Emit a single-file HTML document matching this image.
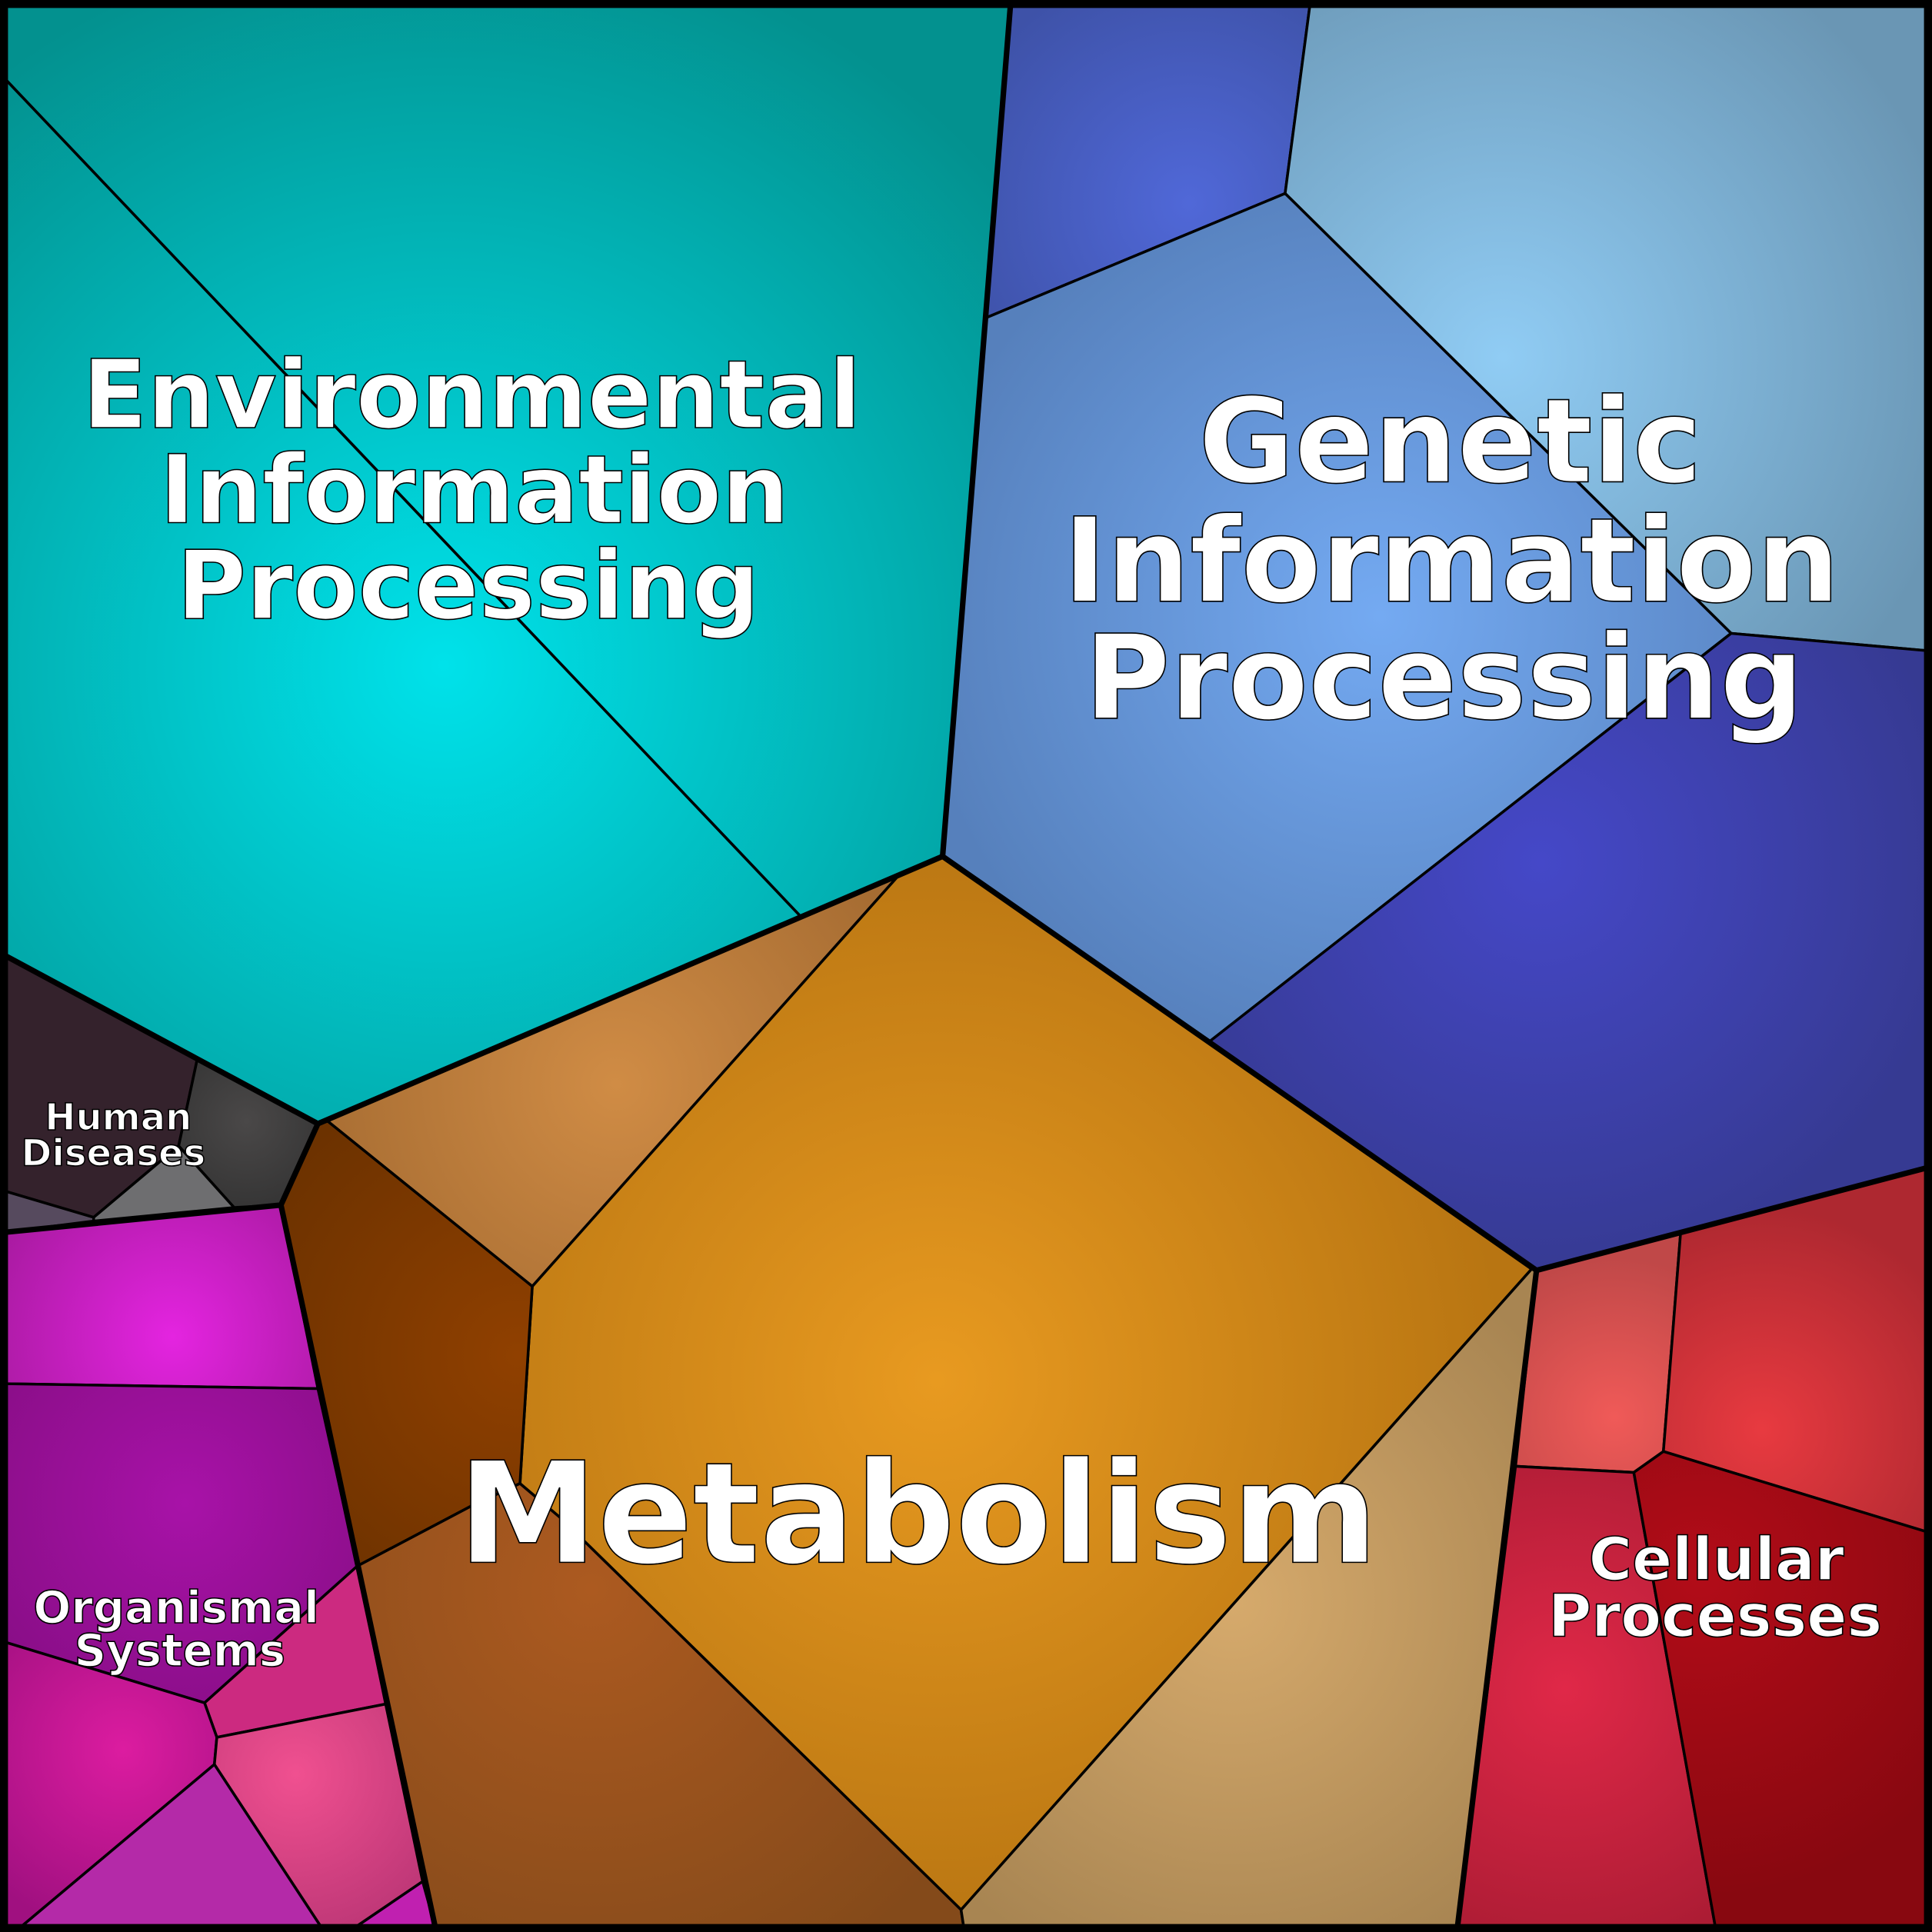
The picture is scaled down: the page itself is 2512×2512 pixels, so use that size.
<!DOCTYPE html>
<html><head><meta charset="utf-8"><style>html,body{margin:0;padding:0;background:#000}svg{display:block}</style></head><body>
<svg xmlns="http://www.w3.org/2000/svg" width="2512" height="2512" viewBox="0 0 1568 1568">
<defs>
<radialGradient id="env" gradientUnits="userSpaceOnUse" cx="360" cy="540" r="600"><stop offset="0" stop-color="#00e2ea"/><stop offset="1" stop-color="#03918f"/></radialGradient>
<radialGradient id="g1" gradientUnits="userSpaceOnUse" cx="965" cy="165" r="200"><stop offset="0" stop-color="#5068d8"/><stop offset="1" stop-color="#3e52a8"/></radialGradient>
<radialGradient id="g2" gradientUnits="userSpaceOnUse" cx="1220" cy="290" r="380"><stop offset="0" stop-color="#90ccf4"/><stop offset="1" stop-color="#6a96b4"/></radialGradient>
<radialGradient id="g3" gradientUnits="userSpaceOnUse" cx="1120" cy="500" r="380"><stop offset="0" stop-color="#74aaf2"/><stop offset="1" stop-color="#5680bc"/></radialGradient>
<radialGradient id="g4" gradientUnits="userSpaceOnUse" cx="1250" cy="700" r="340"><stop offset="0" stop-color="#4548c8"/><stop offset="1" stop-color="#363a92"/></radialGradient>
<radialGradient id="m1" gradientUnits="userSpaceOnUse" cx="500" cy="880" r="260"><stop offset="0" stop-color="#d08c45"/><stop offset="1" stop-color="#a66c32"/></radialGradient>
<radialGradient id="m2" gradientUnits="userSpaceOnUse" cx="760" cy="1120" r="460"><stop offset="0" stop-color="#e89a20"/><stop offset="1" stop-color="#b87512"/></radialGradient>
<radialGradient id="m3" gradientUnits="userSpaceOnUse" cx="420" cy="1100" r="240"><stop offset="0" stop-color="#904000"/><stop offset="1" stop-color="#6c3200"/></radialGradient>
<radialGradient id="m4" gradientUnits="userSpaceOnUse" cx="480" cy="1290" r="360"><stop offset="0" stop-color="#ac5a20"/><stop offset="1" stop-color="#844a1a"/></radialGradient>
<radialGradient id="m5" gradientUnits="userSpaceOnUse" cx="1000" cy="1300" r="320"><stop offset="0" stop-color="#d6aa6c"/><stop offset="1" stop-color="#a88552"/></radialGradient>
<radialGradient id="c1" gradientUnits="userSpaceOnUse" cx="1310" cy="1150" r="130"><stop offset="0" stop-color="#f05a58"/><stop offset="1" stop-color="#c04848"/></radialGradient>
<radialGradient id="c2" gradientUnits="userSpaceOnUse" cx="1430" cy="1160" r="180"><stop offset="0" stop-color="#e83a40"/><stop offset="1" stop-color="#ae2830"/></radialGradient>
<radialGradient id="c3" gradientUnits="userSpaceOnUse" cx="1270" cy="1370" r="220"><stop offset="0" stop-color="#e02848"/><stop offset="1" stop-color="#ac1c34"/></radialGradient>
<radialGradient id="c4" gradientUnits="userSpaceOnUse" cx="1380" cy="1280" r="260"><stop offset="0" stop-color="#b20c18"/><stop offset="1" stop-color="#880810"/></radialGradient>
<radialGradient id="o1" gradientUnits="userSpaceOnUse" cx="140" cy="1085" r="160"><stop offset="0" stop-color="#e424e0"/><stop offset="1" stop-color="#a81aa0"/></radialGradient>
<radialGradient id="o2" gradientUnits="userSpaceOnUse" cx="150" cy="1220" r="180"><stop offset="0" stop-color="#a812a8"/><stop offset="1" stop-color="#8a0e88"/></radialGradient>
<radialGradient id="o4" gradientUnits="userSpaceOnUse" cx="100" cy="1420" r="150"><stop offset="0" stop-color="#dc1ca0"/><stop offset="1" stop-color="#a01080"/></radialGradient>
<radialGradient id="o5" gradientUnits="userSpaceOnUse" cx="240" cy="1440" r="130"><stop offset="0" stop-color="#f05090"/><stop offset="1" stop-color="#c03878"/></radialGradient>
<radialGradient id="h2" gradientUnits="userSpaceOnUse" cx="200" cy="910" r="90"><stop offset="0" stop-color="#4a4848"/><stop offset="1" stop-color="#303030"/></radialGradient>
</defs>
<rect width="1568" height="1568" fill="#000"/>
<g stroke="#000" stroke-width="2.2" stroke-linejoin="round">
<polygon fill="url(#env)" points="5,5 820,5 765,695 650,744 5,65"/>
<polygon fill="url(#env)" points="5,65 650,744 258,912 5,776"/>
<polygon fill="url(#g1)" points="820,5 1063,5 1043,157 800,258"/>
<polygon fill="url(#g2)" points="1063,5 1563,5 1563,528 1405,514 1043,157"/>
<polygon fill="url(#g3)" points="800,258 1043,157 1405,514 982,845 765,695"/>
<polygon fill="url(#g4)" points="1405,514 1563,528 1563,948 1247,1031 982,845"/>
<polygon fill="url(#m1)" points="650,744 728,712 432,1044 266,910 258,912"/>
<polygon fill="url(#m2)" points="728,712 765,695 1243,1030 780,1550 455,1232 422,1204 432,1044"/>
<polygon fill="url(#m3)" points="258,912 266,910 432,1044 422,1204 383,1222 290,1271 228,978"/>
<polygon fill="url(#m4)" points="290,1271 383,1222 422,1204 455,1232 780,1550 782,1563 353,1563"/>
<polygon fill="url(#m5)" points="1243,1030 1247,1031 1183,1563 782,1563 780,1550"/>
<polygon fill="url(#c1)" points="1247,1031 1364,1000 1350,1178 1326,1195 1230,1190"/>
<polygon fill="url(#c2)" points="1364,1000 1563,948 1563,1243 1350,1178"/>
<polygon fill="url(#c3)" points="1230,1190 1326,1195 1392,1563 1183,1563"/>
<polygon fill="url(#c4)" points="1326,1195 1350,1178 1563,1243 1563,1563 1392,1563"/>
<polygon fill="#34222c" points="5,776 160,860 145,930 76,988 5,967"/>
<polygon fill="url(#h2)" points="160,860 258,912 228,978 190,980 145,930"/>
<polygon fill="#6e6e70" points="145,930 190,980 76,991 76,988"/>
<polygon fill="#564a5e" points="5,967 76,988 76,991 5,1000"/>
<polygon fill="url(#o1)" points="5,1000 228,978 258,1127 5,1123"/>
<polygon fill="url(#o2)" points="5,1123 258,1127 290,1271 166,1382 5,1333"/>
<polygon fill="#cc2a80" points="290,1271 313,1383 176,1410 166,1382"/>
<polygon fill="url(#o4)" points="5,1333 166,1382 176,1410 174,1432 18,1563 5,1563"/>
<polygon fill="url(#o5)" points="176,1410 313,1383 343,1527 290,1563 260,1563 174,1432"/>
<polygon fill="#b42aa8" points="174,1432 260,1563 18,1563"/>
<polygon fill="#c020b0" points="343,1527 353,1563 290,1563"/>
</g>
<g stroke="#000" stroke-width="4.5" fill="none" stroke-linecap="round" stroke-linejoin="round">
<polyline points="820,5 765,695 1247,1031 1563,948"/>
<polyline points="765,695 258,912 5,776"/>
<polyline points="258,912 228,978 5,1000"/>
<polyline points="228,978 353,1563"/>
<polyline points="1247,1031 1183,1563"/>
<rect x="3" y="3" width="1562" height="1562" stroke-width="7"/>
</g>
<g font-family="'DejaVu Sans','Liberation Sans',sans-serif" font-weight="bold" fill="#fff" stroke="#000" stroke-width="1" text-anchor="middle">
<text font-size="77" x="383" y="347">Environmental</text>
<text font-size="77" x="385" y="424">Information</text>
<text font-size="77" x="380" y="502">Processing</text>
<text font-size="95" x="1177" y="391">Genetic</text>
<text font-size="95" x="1178" y="488">Information</text>
<text font-size="95" x="1172" y="583">Processing</text>
<text font-size="114" x="745" y="1268">Metabolism</text>
<text font-size="30" x="96" y="917">Human</text>
<text font-size="30" x="92" y="946">Diseases</text>
<text font-size="36" x="143" y="1317">Organismal</text>
<text font-size="36" x="146" y="1352">Systems</text>
<text font-size="48" x="1393" y="1282">Cellular</text>
<text font-size="48" x="1392" y="1328">Processes</text>
</g>
</svg>
</body></html>
